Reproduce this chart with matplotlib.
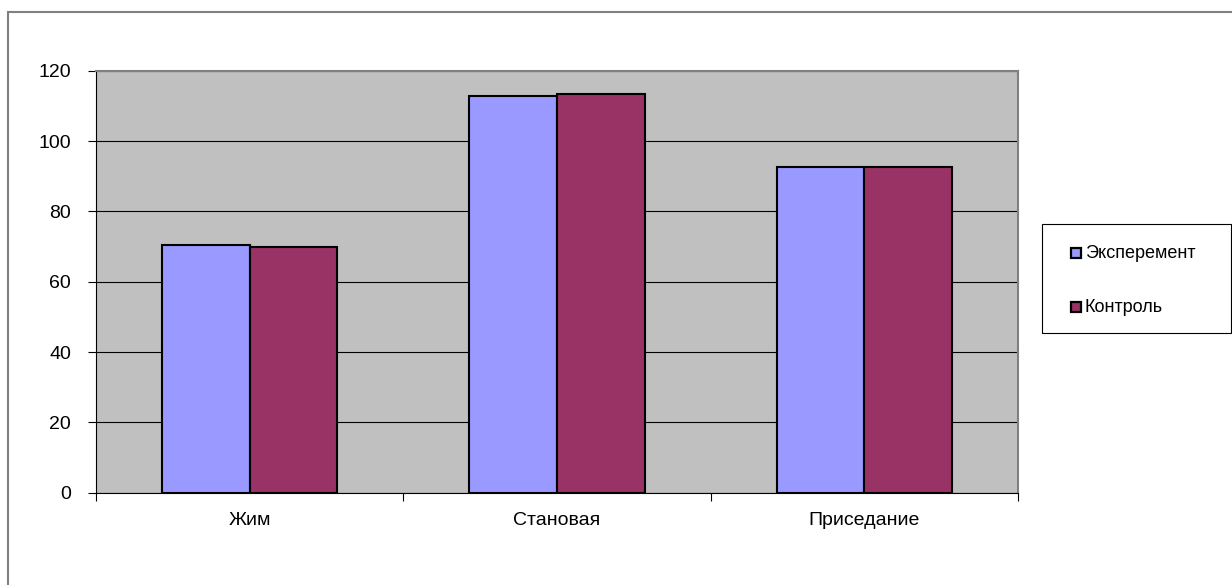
import numpy as np
import matplotlib.pyplot as plt
from matplotlib.patches import Rectangle

plt.rcParams['font.family'] = ['Liberation Sans', 'DejaVu Sans']

categories = ['Жим', 'Становая', 'Приседание']
eksperiment = [70.3, 112.9, 92.7]
kontrol = [69.8, 113.4, 92.5]
series_names = ['Эксперемент', 'Контроль']
colors = ['#9999FF', '#993366']

fig = plt.figure(figsize=(12.32, 5.85), dpi=100)
ax = fig.add_axes([96/1232, 92.3/585, 922/1232, 422/585])
ax.set_facecolor('#C0C0C0')

x = np.arange(len(categories))
w = 0.285
ax.bar(x - w/2, eksperiment, w, color=colors[0], edgecolor='black', linewidth=1.5, zorder=3)
ax.bar(x + w/2, kontrol, w, color=colors[1], edgecolor='black', linewidth=1.5, zorder=3)

ax.set_xlim(-0.5, 2.5)
ax.set_ylim(0, 120)
ax.set_yticks(range(0, 121, 20))
ax.yaxis.grid(True, color='black', linewidth=0.8, zorder=1)
ax.set_axisbelow(True)
ax.tick_params(axis='y', labelsize=14, length=6, width=0.8, pad=12)

ax.set_xticks(x)
ax.set_xticklabels(categories)
ax.set_xticks([-0.5, 0.5, 1.5, 2.5], minor=True)
ax.tick_params(axis='x', which='major', length=0, labelsize=14, pad=14)
ax.tick_params(axis='x', which='minor', length=6, width=0.8)

for s in ['top', 'right']:
    ax.spines[s].set_color('#808080')
    ax.spines[s].set_linewidth(1.5)
for s in ['left', 'bottom']:
    ax.spines[s].set_color('black')
    ax.spines[s].set_linewidth(0.8)

# outer chart border
fig.patches.append(Rectangle((8/1232, -0.05), 1.2, (585-12)/585 + 0.05,
                             transform=fig.transFigure, fill=False,
                             edgecolor='#808080', linewidth=1.5))

# legend box drawn by hand
fig.patches.append(Rectangle((1042/1232, (585-333)/585), (1231-1042)/1232, 109/585,
                             transform=fig.transFigure, fill=True, facecolor='white',
                             edgecolor='black', linewidth=0.8))
for i, name in enumerate(series_names):
    yy = (585 - (253 + 54*i))/585
    fig.patches.append(Rectangle((1071/1232, yy - 5/585), 10/1232, 10/585,
                                 transform=fig.transFigure, facecolor=colors[i],
                                 edgecolor='black', linewidth=1.6))
    fig.text(1085/1232, yy, name, fontsize=13, va='center', ha='left')

fig.savefig('out.png', dpi=100)
